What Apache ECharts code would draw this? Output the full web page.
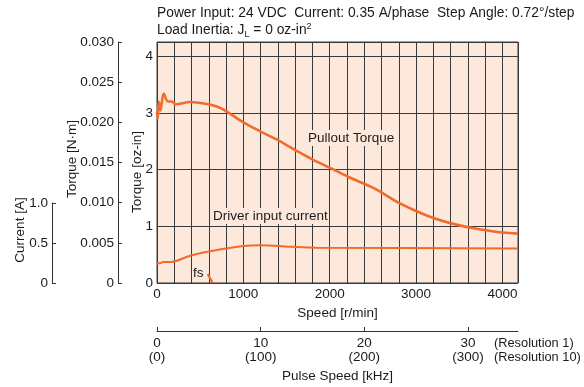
<!DOCTYPE html>
<html>
<head>
<meta charset="utf-8">
<script src="https://cdn.jsdelivr.net/npm/echarts@6/dist/echarts.min.js"></script>
<style>
  html, body { margin: 0; padding: 0; background: #ffffff; }
  #chart { width: 584px; height: 387px; }
</style>
</head>
<body>
<div id="chart"></div>
<script>
// Pullout torque curve: speed [r/min] and torque [oz-in]
const pulloutSpeed  = [0, 8, 20, 40, 77, 127, 170, 217, 380, 560, 692, 800, 1000, 1200, 1385, 1615, 1808, 2019, 2230, 2400, 2538, 2769, 3000, 3192, 3385, 3615, 3808, 4000, 4180];
const pulloutTorque = [3.02, 2.9, 3.2, 3.04, 3.34, 3.2, 3.2, 3.15, 3.19, 3.16, 3.11, 3.03, 2.83, 2.67, 2.53, 2.33, 2.17, 2.02, 1.86, 1.75, 1.65, 1.44, 1.27, 1.15, 1.06, 0.98, 0.93, 0.89, 0.87];

// Driver input current: speed [r/min] and current [A]
const currentSpeed = [0, 40, 77, 154, 385, 692, 1000, 1192, 1577, 1846, 4180];
const currentAmps  = [0.24, 0.25, 0.26, 0.26, 0.34, 0.41, 0.46, 0.47, 0.45, 0.44, 0.43];

// Maximum starting frequency marker (fs)
const fsSpeed  = [587, 645];
const fsTorque = [0.16, 0];

// Axis ticks
const speedLabelStep = 1000;
const torqueOzInTicks = [0, 1, 2, 3, 4];
const pulseTicks = [0, 10, 20, 30];
const currentTicks = [0, 0.5, 1.0];

// Scale relations
const NM_PER_OZIN = 0.00706155;
const torqueMaxNm = 0.03;
const speedMax = 4180;
const rpmPerKHz = 120;     // 0.72 deg/step -> 500 pulses per revolution
const currentAxisMax = 3;  // 1 A spans one third of the torque range

const FONT = '"Liberation Sans", Arial, sans-serif';
const FS = 13.5;
const TEXT = '#1a1a1a';
const ORANGE = '#f26a2c';
const GRIDLINE = '#3a3a3a';
const AXIS = '#333333';
const PLOT_BG = '#fde9dc';

const zip = (xs, ys) => xs.map((x, i) => [x, ys[i]]);
const font = FS + 'px ' + FONT;

const chart = echarts.init(document.getElementById('chart'), null, { renderer: 'canvas' });

const labelStyle = { color: TEXT, fontSize: FS, fontFamily: FONT };

const option = {
  animation: false,
  textStyle: { fontFamily: FONT, color: TEXT },
  grid: [
    { left: 157, top: 42, right: 66, bottom: 104, show: true, backgroundColor: PLOT_BG,
      borderColor: GRIDLINE, borderWidth: 1, containLabel: false, outerBoundsMode: 'none' },
    { left: 52, top: 203, width: 1, height: 80, show: false, containLabel: false, outerBoundsMode: 'none' }
  ],
  xAxis: [
    {
      gridIndex: 0, type: 'value', min: 0, max: speedMax, interval: 200,
      axisLine: { show: false }, axisTick: { show: false },
      splitLine: { show: true, lineStyle: { color: GRIDLINE, width: 1 } },
      axisLabel: Object.assign({ margin: 4, formatter: v => (v % speedLabelStep === 0 ? String(v) : '') }, labelStyle),
      name: 'Speed [r/min]', nameLocation: 'middle', nameGap: 23,
      nameTextStyle: labelStyle
    },
    {
      gridIndex: 0, type: 'value', position: 'bottom', offset: 48,
      min: 0, max: speedMax / rpmPerKHz,
      axisLine: { show: true, onZero: false, lineStyle: { color: AXIS, width: 1 } },
      axisTick: { show: true, inside: true, length: 4, customValues: pulseTicks, lineStyle: { color: AXIS } },
      splitLine: { show: false },
      axisLabel: Object.assign({ margin: 5, lineHeight: 14, customValues: pulseTicks,
        formatter: v => v + '\n(' + (v * 10) + ')' }, labelStyle),
      name: 'Pulse Speed [kHz]', nameLocation: 'middle', nameGap: 38,
      nameTextStyle: labelStyle
    },
    { gridIndex: 1, type: 'value', show: false }
  ],
  yAxis: [
    {
      gridIndex: 0, type: 'value', min: 0, max: torqueMaxNm / NM_PER_OZIN, interval: 1,
      axisLine: { show: false }, axisTick: { show: false },
      splitLine: { show: true, lineStyle: { color: GRIDLINE, width: 1 } },
      axisLabel: Object.assign({ margin: 4, customValues: torqueOzInTicks }, labelStyle)
    },
    {
      gridIndex: 0, type: 'value', position: 'left', offset: 39,
      min: 0, max: torqueMaxNm, interval: 0.005,
      axisLine: { show: true, onZero: false, lineStyle: { color: AXIS, width: 1 } },
      axisTick: { show: true, inside: true, length: 4, lineStyle: { color: AXIS } },
      splitLine: { show: false },
      axisLabel: Object.assign({ margin: 4, formatter: v => (v === 0 ? '0' : v.toFixed(3)) }, labelStyle)
    },
    { gridIndex: 0, type: 'value', min: 0, max: currentAxisMax, show: false },
    {
      gridIndex: 1, type: 'value', position: 'left', min: 0, max: 1, interval: 0.5,
      axisLine: { show: true, onZero: false, lineStyle: { color: AXIS, width: 1 } },
      axisTick: { show: true, inside: true, length: 4, lineStyle: { color: AXIS } },
      splitLine: { show: false },
      axisLabel: Object.assign({ margin: 4, customValues: currentTicks,
        formatter: v => (v === 0 ? '0' : v.toFixed(1)) }, labelStyle)
    }
  ],
  series: [
    {
      name: 'Pullout Torque', type: 'line', xAxisIndex: 0, yAxisIndex: 0,
      data: zip(pulloutSpeed, pulloutTorque), smooth: 0.3, showSymbol: false,
      lineStyle: { color: ORANGE, width: 2.6 }, z: 5
    },
    {
      name: 'Driver input current', type: 'line', xAxisIndex: 0, yAxisIndex: 2,
      data: zip(currentSpeed, currentAmps), smooth: 0.3, showSymbol: false,
      lineStyle: { color: ORANGE, width: 2 }, z: 5
    },
    {
      name: 'fs', type: 'line', xAxisIndex: 0, yAxisIndex: 0,
      data: zip(fsSpeed, fsTorque), showSymbol: false,
      lineStyle: { color: ORANGE, width: 2.2 }, z: 5
    }
  ],
  graphic: [
    {
      type: 'text', left: 157, top: 6,
      style: { text: 'Power Input: 24 VDC  Current: 0.35 A/phase  Step Angle: 0.72°/step',
        font: '13.8px ' + FONT, fill: TEXT }
    },
    {
      type: 'text', left: 157, top: 22,
      style: {
        text: 'Load Inertia: J{sub|L} = 0 oz-in{sup|2}',
        font: '13.8px ' + FONT, fill: TEXT,
        rich: {
          sub: { fontSize: 9, fontFamily: FONT, fill: TEXT, verticalAlign: 'bottom', padding: [5, 0, 0, 0] },
          sup: { fontSize: 9, fontFamily: FONT, fill: TEXT, verticalAlign: 'top', padding: [0, 0, 8, 0] }
        }
      }
    },
    {
      type: 'text', x: 307, y: 138, z: 10,
      style: { text: 'Pullout Torque', font: font, fill: TEXT,
        verticalAlign: 'middle', backgroundColor: PLOT_BG, padding: [1, 1] }
    },
    {
      type: 'text', x: 212, y: 216, z: 10,
      style: { text: 'Driver input current', font: font, fill: TEXT,
        verticalAlign: 'middle', backgroundColor: PLOT_BG, padding: [1, 1] }
    },
    {
      type: 'text', x: 192, y: 273, z: 10,
      style: { text: 'fs', font: font, fill: TEXT,
        verticalAlign: 'middle', backgroundColor: PLOT_BG, padding: [0, 1] }
    },
    {
      type: 'text', x: 137, y: 172, rotation: Math.PI / 2,
      style: { text: 'Torque [oz-in]', font: font, fill: TEXT, align: 'center', verticalAlign: 'middle' }
    },
    {
      type: 'text', x: 72, y: 159, rotation: Math.PI / 2,
      style: { text: 'Torque [N·m]', font: font, fill: TEXT, align: 'center', verticalAlign: 'middle' }
    },
    {
      type: 'text', x: 20, y: 230, rotation: Math.PI / 2,
      style: { text: 'Current [A]', font: font, fill: TEXT, align: 'center', verticalAlign: 'middle' }
    },
    {
      type: 'text', x: 494, y: 343,
      style: { text: '(Resolution 1)', font: '12.8px ' + FONT, fill: TEXT, verticalAlign: 'middle' }
    },
    {
      type: 'text', x: 494, y: 357,
      style: { text: '(Resolution 10)', font: '12.8px ' + FONT, fill: TEXT, verticalAlign: 'middle' }
    }
  ]
};

chart.setOption(option);
</script>
</body>
</html>
